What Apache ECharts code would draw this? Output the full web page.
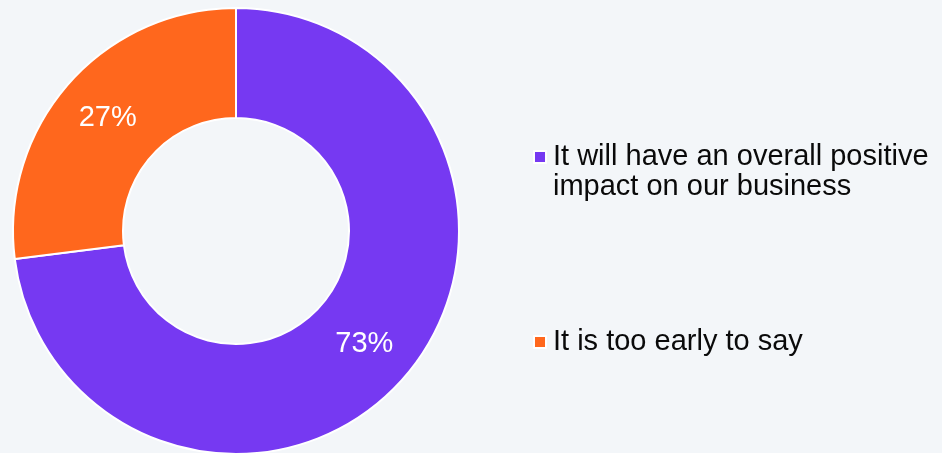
<!DOCTYPE html>
<html>
<head>
<meta charset="utf-8">
<script src="https://cdn.jsdelivr.net/npm/echarts@6/dist/echarts.min.js"></script>
<style>
html,body{margin:0;padding:0;background:#F3F6F9;}
#chart{width:942px;height:453px;}
</style>
</head>
<body>
<div id="chart"></div>
<script>
const categories = ['It will have an overall positive\nimpact on our business', 'It is too early to say'];
const values = [73, 27];
const colors = ['#7639F2', '#FF671D'];

const chart = echarts.init(document.getElementById('chart'));
const fontFamily = '"Liberation Sans", Arial, Helvetica, sans-serif';
chart.setOption({
  backgroundColor: '#F3F6F9',
  animation: false,
  color: colors,
  legend: [
    {
      data: [categories[0]],
      formatter: name => '\n' + name,
      left: 533,
      top: 112,
      padding: 0,
      itemWidth: 12,
      itemHeight: 12,
      icon: 'rect',
      selectedMode: false,
      textStyle: { fontFamily, fontSize: 29, color: '#0a0a0a', lineHeight: 30, padding: [0, 0, 0, 2] }
    },
    {
      data: [categories[1]],
      left: 533,
      top: 327,
      padding: 0,
      itemWidth: 12,
      itemHeight: 12,
      icon: 'rect',
      selectedMode: false,
      textStyle: { fontFamily, fontSize: 29, color: '#0a0a0a', lineHeight: 30, padding: [0, 0, 0, 2] }
    }
  ],
  series: [{
    type: 'pie',
    center: [236, 231],
    radius: [113, 223],
    startAngle: 90,
    clockwise: true,
    avoidLabelOverlap: false,
    itemStyle: { borderColor: '#ffffff', borderWidth: 2 },
    label: {
      show: true,
      position: 'inside',
      formatter: '{c}%',
      color: '#ffffff',
      fontFamily,
      fontSize: 29
    },
    labelLine: { show: false },
    emphasis: { disabled: true },
    data: categories.map((name, i) => ({ name, value: values[i] }))
  }]
});
</script>
</body>
</html>
